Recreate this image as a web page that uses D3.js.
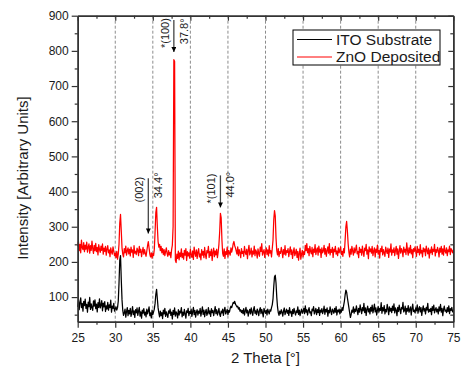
<!DOCTYPE html>
<html>
<head>
<meta charset="utf-8">
<script src="https://cdn.jsdelivr.net/npm/d3@7"></script>
<style>
  body { margin: 0; background: #fff; }
  svg text { font-family: "Liberation Sans", Arial, sans-serif; fill: #1a1a1a; }
</style>
</head>
<body>
<div id="xrd"></div>
<script>
// ---------------------------------------------------------------
// XRD pattern : ITO substrate vs ZnO deposited
// ---------------------------------------------------------------

// 2 theta grid: first angle and step of the scan (degrees)
const thetaStart = 25, thetaStep = 0.1;

// intensity, one row per degree (25.0 ... 74.9) + 75.0
const itoSubstrate = [
  72, 91, 64, 85, 98, 70, 82, 60, 88, 76,
  94, 68, 79, 57, 86, 73, 99, 65, 81, 70,
  62, 89, 74, 92, 67, 80, 58, 84, 71, 95,
  69, 77, 90, 61, 83, 72, 87, 59, 75, 66,
  85, 63, 78, 70, 91, 57, 74, 68, 82, 60,
  66, 72, 63, 70, 88, 140, 205, 218, 150, 92,   // 30
  62, 48, 55, 66, 43, 59, 70, 47, 62, 52,
  68, 45, 57, 73, 50, 61, 42, 64, 55, 69,
  48, 60, 71, 46, 58, 40, 63, 54, 67, 49,
  57, 44, 66, 52, 61, 72, 47, 55, 41, 63,
  50, 58, 66, 82, 108, 122, 96, 70, 55, 44,     // 35
  60, 47, 56, 39, 63, 52, 68, 45, 58, 50,
  42, 61, 54, 66, 48, 57, 38, 62, 51, 69,
  46, 58, 53, 41, 64, 49, 60, 55, 70, 44,
  57, 48, 65, 52, 40, 61, 56, 68, 47, 59,
  53, 66, 45, 58, 71, 50, 62, 43, 57, 64,       // 40
  49, 60, 54, 68, 46, 59, 72, 51, 63, 44,
  58, 65, 48, 55, 70, 52, 61, 45, 67, 56,
  62, 47, 59, 73, 53, 64, 49, 57, 68, 51,
  45, 60, 55, 66, 48, 63, 71, 52, 58, 65,
  50, 62, 57, 68, 74, 70, 78, 85, 82, 88,       // 45
  80, 76, 72, 74, 66, 70, 60, 64, 56, 62,
  53, 67, 49, 60, 71, 55, 63, 46, 58, 65,
  52, 69, 57, 48, 64, 73, 54, 61, 50, 66,
  59, 47, 62, 70, 53, 65, 56, 44, 68, 60,
  54, 63, 49, 66, 58, 52, 64, 60, 70, 78,       // 50
  95, 130, 158, 162, 140, 100, 72, 56, 48, 60,
  52, 64, 57, 46, 61, 69, 50, 58, 66, 54,
  62, 48, 70, 55, 59, 45, 64, 53, 68, 57,
  49, 61, 56, 72, 51, 63, 47, 58, 66, 54,
  60, 68, 53, 75, 57, 64, 49, 62, 70, 55,       // 55
  58, 47, 66, 61, 73, 52, 59, 68, 50, 64,
  56, 71, 48, 63, 57, 67, 53, 60, 74, 51,
  65, 58, 69, 46, 62, 55, 72, 59, 50, 66,
  61, 54, 68, 57, 73, 49, 63, 58, 66, 52,
  64, 57, 70, 62, 76, 88, 106, 120, 114, 98,    // 60
  84, 70, 56, 42, 50, 63, 57, 72, 54, 66,
  59, 75, 62, 50, 68, 57, 78, 64, 53, 70,
  61, 82, 56, 69, 48, 65, 74, 58, 67, 52,
  71, 60, 77, 55, 66, 80, 58, 69, 49, 63,
  73, 57, 68, 62, 84, 54, 70, 61, 76, 52,       // 65
  65, 58, 79, 67, 50, 72, 60, 68, 56, 74,
  62, 81, 55, 69, 63, 47, 71, 59, 77, 64,
  53, 70, 66, 85, 58, 62, 74, 51, 68, 60,
  76, 57, 64, 72, 49, 67, 80, 59, 63, 55,
  69, 61, 78, 54, 66, 73, 58, 70, 48, 64,       // 70
  75, 60, 67, 52, 71, 63, 82, 57, 65, 59,
  68, 50, 73, 62, 77, 55, 64, 70, 58, 66,
  52, 72, 61, 79, 57, 68, 47, 65, 74, 60,
  63, 56, 70, 59, 75, 53, 67, 62, 71, 58,
  64
];

const znoDeposited = [
  244, 258, 232, 250, 226, 262, 240, 235, 255, 229,
  248, 236, 256, 228, 242, 251, 225, 246, 233, 259,
  238, 224, 247, 232, 253, 229, 241, 220, 249, 236,
  227, 245, 233, 251, 222, 239, 230, 244, 219, 237,
  246, 226, 234, 215, 240, 228, 222, 243, 231, 218,
  225, 212, 230, 208, 222, 250, 310, 335, 288, 240,   // 30
  222, 214, 238, 226, 245, 219, 232, 240, 223, 236,
  217, 242, 228, 234, 213, 246, 225, 230, 221, 239,
  233, 218, 244, 227, 236, 215, 229, 241, 222, 235,
  224, 216, 231, 246, 258, 240, 222, 214, 226, 211,
  224, 218, 236, 285, 340, 355, 300, 258, 242, 250,   // 35
  232, 244, 226, 238, 221, 235, 218, 229, 240, 224,
  216, 232, 220, 227, 212, 235, 248, 300, 775, 770,
  205, 198, 222, 210, 231, 206, 226, 215, 237, 212,
  224, 208, 233, 219, 238, 204, 229, 217, 226, 211,
  236, 220, 213, 231, 207, 242, 225, 216, 234, 210,   // 40
  228, 238, 214, 223, 206, 235, 219, 230, 212, 241,
  221, 209, 232, 226, 244, 213, 229, 218, 236, 204,
  227, 239, 215, 231, 220, 236, 212, 228, 250, 285,
  338, 325, 262, 224, 216, 237, 210, 229, 221, 242,
  214, 233, 226, 219, 240, 228, 238, 252, 258, 246,   // 45
  240, 231, 222, 243, 218, 235, 226, 212, 238, 224,
  230, 216, 244, 227, 221, 236, 209, 233, 247, 220,
  226, 239, 214, 231, 222, 245, 218, 234, 228, 211,
  237, 224, 216, 242, 230, 252, 219, 228, 235, 213,
  229, 240, 221, 234, 217, 246, 225, 232, 214, 238,   // 50
  262, 320, 346, 330, 268, 232, 220, 238, 215, 229,
  224, 241, 230, 212, 235, 222, 246, 219, 232, 227,
  238, 215, 229, 243, 221, 234, 210, 228, 240, 218,
  226, 236, 213, 230, 205, 224, 239, 208, 222, 233,
  214, 229, 221, 247, 232, 252, 226, 238, 218, 244,   // 55
  230, 223, 241, 215, 236, 227, 249, 221, 233, 240,
  219, 245, 228, 236, 213, 240, 226, 231, 247, 222,
  238, 216, 232, 243, 225, 252, 220, 235, 227, 241,
  213, 236, 229, 244, 222, 231, 218, 240, 226, 234,
  243, 221, 230, 216, 238, 226, 262, 300, 315, 288,   // 60
  252, 228, 214, 236, 222, 244, 231, 219, 240, 226,
  235, 248, 223, 230, 212, 241, 227, 236, 219, 245,
  228, 216, 239, 232, 250, 222, 234, 209, 243, 229,
  237, 225, 244, 218, 231, 240, 214, 236, 227, 248,
  222, 233, 211, 238, 229, 245, 220, 235, 226, 216,   // 65
  242, 231, 224, 239, 213, 236, 228, 251, 219, 234,
  227, 240, 218, 232, 244, 222, 237, 210, 230, 246,
  225, 238, 231, 215, 242, 228, 236, 221, 254, 233,
  219, 240, 226, 247, 223, 235, 212, 238, 229, 243,
  231, 216, 244, 227, 236, 220, 249, 225, 233, 214,   // 70
  240, 229, 237, 218, 245, 232, 223, 239, 211, 234,
  226, 243, 221, 236, 230, 250, 217, 235, 227, 241,
  233, 214, 239, 228, 244, 222, 237, 219, 246, 230,
  225, 240, 218, 234, 229, 245, 221, 238, 232, 226,
  235
];

const seriesNames = ["ITO Substrate", "ZnO Deposited"];
const seriesColors = ["#000000", "#ff0000"];

// axis ticks
const xMajorTicks = [25, 30, 35, 40, 45, 50, 55, 60, 65, 70, 75];
const xMinorTicks = [27.5, 32.5, 37.5, 42.5, 47.5, 52.5, 57.5, 62.5, 67.5, 72.5];
const yMajorTicks = [100, 200, 300, 400, 500, 600, 700, 800, 900];
const yMinorTicks = [50, 150, 250, 350, 450, 550, 650, 750, 850];

// peak annotations (angle, plane, angle label, arrow top / tip intensity, text bottoms)
const peakTheta   = [34.4, 37.8, 44.0];
const peakPlane   = ["(002)", "*(100)", "*(101)"];
const peakLabel   = ["34.4°", "37.8°", "44.0°"];
const arrowTop    = [438, 888, 446];
const arrowTip    = [281, 797, 355];
const planeBottom = [369, 808, 366];
const labelBottom = [381, 819, 383];

// ---------------------------------------------------------------
const W = 462, H = 370;
const margin = {top: 15.7, right: 8.7, bottom: 48.3, left: 77.7},
    width = W - margin.left - margin.right,
    height = H - margin.top - margin.bottom;

const svg = d3.select("#xrd")
  .append("svg")
    .attr("width", W)
    .attr("height", H);

const g = svg.append("g")
    .attr("transform", `translate(${margin.left},${margin.top})`);

const x = d3.scaleLinear().domain([25, 75]).range([0, width]);
const y = d3.scaleLinear().domain([30, 900]).range([height, 0]);

// dashed grid at the major angles
g.append("g")
  .selectAll("line")
  .data(xMajorTicks.slice(1, -1))
  .join("line")
    .attr("x1", d => x(d)).attr("x2", d => x(d))
    .attr("y1", 0).attr("y2", height)
    .attr("stroke", "#8c8c8c")
    .attr("stroke-width", 1)
    .attr("stroke-dasharray", "3,2");

// the two scans
const line = d3.line()
  .x((d, i) => x(thetaStart + i * thetaStep))
  .y(d => y(d));

[itoSubstrate, znoDeposited].forEach((s, k) => {
  g.append("path")
    .datum(s)
    .attr("fill", "none")
    .attr("stroke", seriesColors[k])
    .attr("stroke-width", 1.25)
    .attr("stroke-linejoin", "round")
    .attr("d", line);
});

// axes
function styleAxis(sel) {
  sel.select(".domain").attr("stroke", "#333").attr("stroke-width", 1.5);
  sel.selectAll(".tick line").attr("stroke", "#333").attr("stroke-width", 1.2);
  sel.selectAll("text").attr("font-size", 12).attr("fill", "#1a1a1a");
}

g.append("g")
  .attr("transform", `translate(0,${height})`)
  .call(d3.axisBottom(x).tickValues(xMajorTicks).tickSize(6).tickSizeOuter(0).tickPadding(6))
  .call(styleAxis);
g.append("g")
  .attr("transform", `translate(0,${height})`)
  .call(d3.axisBottom(x).tickValues(xMinorTicks).tickSize(3).tickSizeOuter(0).tickFormat(""))
  .call(styleAxis);

g.append("g")
  .call(d3.axisLeft(y).tickValues(yMajorTicks).tickSize(6).tickSizeOuter(0).tickPadding(3))
  .call(styleAxis);
g.append("g")
  .call(d3.axisLeft(y).tickValues(yMinorTicks).tickSize(3).tickSizeOuter(0).tickFormat(""))
  .call(styleAxis);

// mirror axes, ticks pointing in
g.append("g")
  .call(d3.axisTop(x).tickValues(xMajorTicks).tickSize(-5).tickSizeOuter(0).tickFormat(""))
  .call(styleAxis);
g.append("g")
  .call(d3.axisTop(x).tickValues(xMinorTicks).tickSize(-3).tickSizeOuter(0).tickFormat(""))
  .call(styleAxis);
g.append("g")
  .attr("transform", `translate(${width},0)`)
  .call(d3.axisRight(y).tickValues(yMajorTicks).tickSize(-5).tickSizeOuter(0).tickFormat(""))
  .call(styleAxis);
g.append("g")
  .attr("transform", `translate(${width},0)`)
  .call(d3.axisRight(y).tickValues(yMinorTicks).tickSize(-3).tickSizeOuter(0).tickFormat(""))
  .call(styleAxis);

// axis titles
g.append("text")
  .attr("x", width / 2)
  .attr("y", height + 41)
  .attr("text-anchor", "middle")
  .attr("font-size", 15)
  .text("2 Theta [°]");

svg.append("text")
  .attr("transform", `translate(28,178) rotate(-90)`)
  .attr("text-anchor", "middle")
  .attr("font-size", 15)
  .text("Intensity [Arbitrary Units]");

// peak arrows and labels
svg.append("defs").append("marker")
    .attr("id", "head")
    .attr("viewBox", "0 0 10 10")
    .attr("refX", 10).attr("refY", 5)
    .attr("markerWidth", 6).attr("markerHeight", 5)
    .attr("markerUnits", "userSpaceOnUse")
    .attr("orient", "auto")
  .append("path")
    .attr("d", "M0,0L10,5L0,10Z")
    .attr("fill", "#000");

peakTheta.forEach((t, i) => {
  const px = x(t);
  g.append("line")
    .attr("x1", px).attr("x2", px)
    .attr("y1", y(arrowTop[i])).attr("y2", y(arrowTip[i]))
    .attr("stroke", "#444")
    .attr("stroke-width", 1.3)
    .attr("marker-end", "url(#head)");
  g.append("text")
    .attr("transform", `translate(${px - 5},${y(planeBottom[i])}) rotate(-90)`)
    .attr("font-size", 11)
    .text(peakPlane[i]);
  g.append("text")
    .attr("transform", `translate(${px + 14},${y(labelBottom[i])}) rotate(-90)`)
    .attr("font-size", 11)
    .text(peakLabel[i]);
});

// legend
const lg = svg.append("g").attr("transform", "translate(293,30)");
lg.append("rect")
  .attr("width", 147).attr("height", 35)
  .attr("fill", "#fff")
  .attr("stroke", "#000")
  .attr("stroke-width", 1);
seriesNames.forEach((name, i) => {
  lg.append("line")
    .attr("x1", 4).attr("x2", 39)
    .attr("y1", 9.5 + i * 17.5).attr("y2", 9.5 + i * 17.5)
    .attr("stroke", seriesColors[i])
    .attr("stroke-width", 1);
  lg.append("text")
    .attr("x", 43)
    .attr("y", 14.5 + i * 17.5)
    .attr("font-size", 15.5)
    .text(name);
});
</script>
</body>
</html>
